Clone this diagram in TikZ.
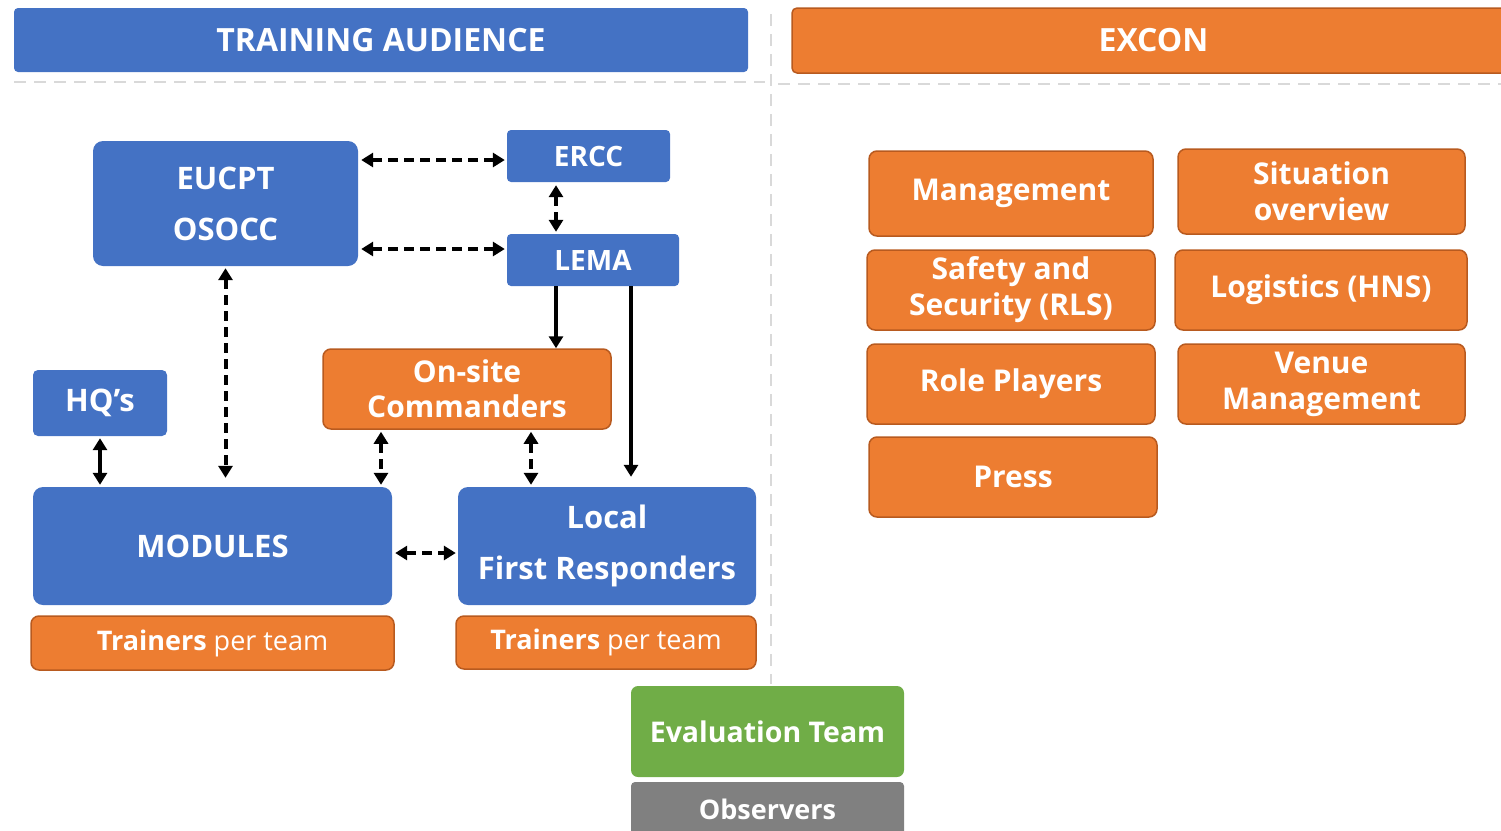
\documentclass[tikz,border=0pt]{standalone}
\usepackage{fontspec}
\setmainfont{Open Sans}
\usepackage{tikz}
\usetikzlibrary{arrows.meta}
\definecolor{tablue}{HTML}{4472C4}
\definecolor{exorange}{HTML}{ED7D31}
\definecolor{exborder}{HTML}{B85A1F}
\definecolor{evgreen}{HTML}{70AD47}
\definecolor{obsgray}{HTML}{808080}
\definecolor{sepgray}{HTML}{D9D9D9}
\newcommand{\setfs}[2]{\fontsize{#1}{#2}\selectfont}
\tikzset{box/.style={rounded corners=8pt, text=white, font=\bfseries, align=center, inner sep=0pt}}
\tikzset{blue box/.style={box, fill=tablue}}
\tikzset{orange box/.style={box, fill=exorange, draw=exborder, line width=1.5pt}}
\tikzset{ex box/.style={orange box, minimum width=286pt, minimum height=80pt, font=\bfseries\setfs{30}{36}}}
\tikzstyle{twoway} = [line width=4pt, {Triangle[length=12pt,width=14pt]}-{Triangle[length=12pt,width=14pt]}]
\tikzstyle{oneway} = [line width=4pt, -{Triangle[length=12pt,width=14pt]}]
\tikzstyle{dash it} = [dash pattern=on 10pt off 6pt]
\begin{document}
\begin{tikzpicture}[x=1pt,y=-1pt]
\useasboundingbox (0,0) rectangle (1501,830);

% separators
\draw[sepgray, line width=2.5pt, dash pattern=on 12pt off 8pt] (14,82) -- (765,82);
\draw[sepgray, line width=2.5pt, dash pattern=on 12pt off 8pt] (778,84) -- (1501,84);
\draw[sepgray, line width=2.5pt, dash pattern=on 12pt off 8pt] (771,14) -- (771,684);

% headers
\node[blue box, rounded corners=4pt, minimum width=734pt, minimum height=64pt, font=\bfseries\setfs{32}{38}] (audience) at (381,40) {TRAINING AUDIENCE};
\node[orange box, rounded corners=5pt, minimum width=723pt, minimum height=65pt, font=\bfseries\setfs{32}{38}] (excon) at (1153.5,40.5) {EXCON};

% training audience
\node[blue box, rounded corners=10pt, minimum width=265pt, minimum height=125pt, font=\bfseries\setfs{31}{51}] (eucpt) at (225.5,203.5) {EUCPT\\OSOCC};
\node[blue box, rounded corners=4pt, minimum width=163pt, minimum height=52pt, font=\bfseries\setfs{28}{34}] (ercc) at (588.5,156) {ERCC};
\node[blue box, rounded corners=4pt, minimum width=172pt, minimum height=52pt, font=\bfseries\setfs{28}{34}] (lema) at (593,260) {LEMA};
\node[blue box, rounded corners=5pt, minimum width=134pt, minimum height=66pt, font=\bfseries\setfs{31}{37}] (hq) at (100,403) {HQ’s};
\node[orange box, minimum width=288pt, minimum height=80pt, font=\bfseries\setfs{30}{35}] (onsite) at (467,389) {On-site\\Commanders};
\node[blue box, rounded corners=10pt, minimum width=359pt, minimum height=118pt, font=\bfseries\setfs{31}{37}] (modules) at (212.5,546) {MODULES};
\node[blue box, rounded corners=10pt, minimum width=298pt, minimum height=118pt, font=\bfseries\setfs{31}{51}] (local) at (607,546) {Local\\First Responders};
\node[orange box, minimum width=363pt, minimum height=54pt, font=\bfseries\setfs{27}{32}] (trainmod) at (212.5,643) {Trainers {\mdseries per team}};
\node[orange box, minimum width=300pt, minimum height=53pt, font=\bfseries\setfs{27}{32}] (trainloc) at (606,642.5) {Trainers {\mdseries per team}};

% evaluation
\node[box, fill=evgreen, rounded corners=7pt, minimum width=273pt, minimum height=91pt, font=\bfseries\setfs{28.5}{34}] (evalteam) at (767.5,731.5) {Evaluation Team};
\node[box, fill=obsgray, rounded corners=4pt, minimum width=273pt, minimum height=56pt, font=\bfseries\setfs{27}{32}, text height=20pt] (observers) at (767.5,810) {Observers};

% excon
\node[ex box, minimum width=284pt, minimum height=85pt] (mgmt) at (1011,193.5) {Management};
\node[ex box, minimum width=287pt, minimum height=85pt] (sitov) at (1321.5,191.5) {Situation\\overview};
\node[ex box, minimum width=288pt] (safety) at (1011,290) {Safety and\\Security (RLS)};
\node[ex box, minimum width=292pt] (logistics) at (1321,290) {Logistics (HNS)};
\node[ex box, minimum width=288pt] (roles) at (1011,384) {Role Players};
\node[ex box, minimum width=287pt] (venue) at (1321.5,384) {Venue\\Management};
\node[ex box, minimum width=288pt] (press) at (1013,477) {Press};

% links
\draw[twoway, dash it, shorten <=3pt, shorten >=2pt] ([yshift=-4pt]eucpt.east |- ercc.west) -- ([yshift=-4pt]ercc.west);
\draw[twoway, dash it, shorten <=3pt, shorten >=2pt] ([yshift=11pt]eucpt.east |- lema.west) -- ([yshift=11pt]lema.west);
\draw[twoway, dash it, shorten <=3pt, shorten >=2pt] ([xshift=-32.5pt]ercc.south) -- ([xshift=-32.5pt]ercc.south |- lema.north);
\draw[twoway, dash it, shorten <=2pt, shorten >=9pt] (eucpt.south) -- (eucpt.south |- modules.north);
\draw[twoway, shorten <=2pt, shorten >=2pt] (hq.south) -- (hq.south |- modules.north);
\draw[oneway] ([xshift=-37pt]lema.south) -- ([xshift=-37pt]lema.south |- onsite.north);
\draw[oneway, shorten >=10pt] ([xshift=38pt]lema.south) -- ([xshift=38pt]lema.south |- local.north);
\draw[twoway, dash it, shorten <=2pt, shorten >=2pt] ([xshift=-86pt]onsite.south) -- ([xshift=-86pt]onsite.south |- modules.north);
\draw[twoway, dash it, shorten <=2pt, shorten >=2pt] ([xshift=64pt]onsite.south) -- ([xshift=64pt]onsite.south |- local.north);
\draw[twoway, dash it, shorten <=3pt, shorten >=2pt] ([yshift=-7pt]modules.east) -- ([yshift=-7pt]local.west);
\end{tikzpicture}
\end{document}
